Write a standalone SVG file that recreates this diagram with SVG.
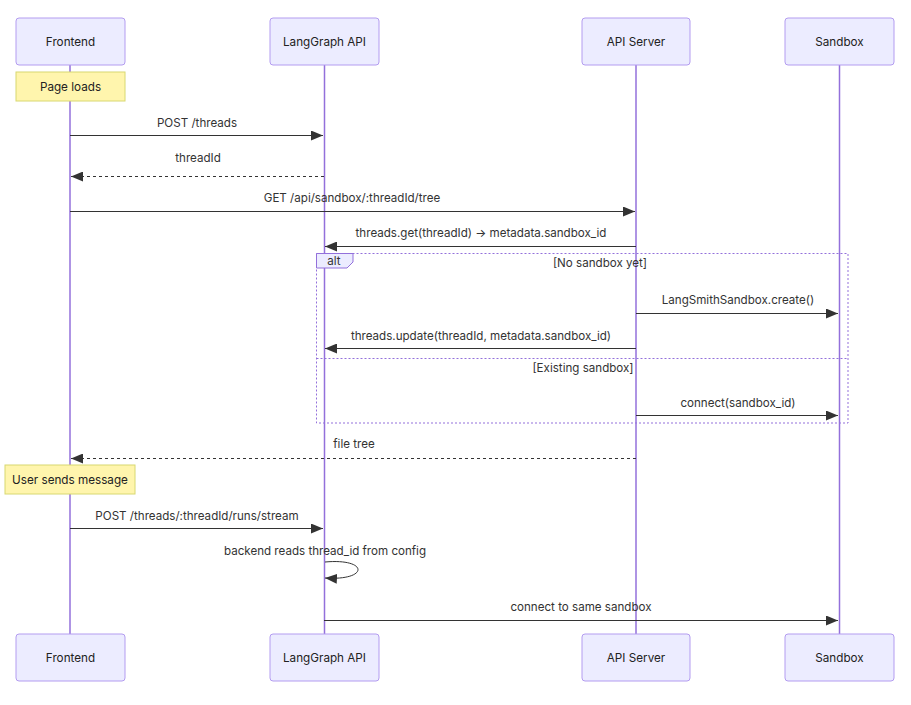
<svg xmlns="http://www.w3.org/2000/svg" width="911" height="705" viewBox="0 0 911 705">
<style>
text{font-family:Inter,"Liberation Sans",sans-serif;fill:#333;}
.actor rect{fill:#ECECFF;stroke:#B39CF0;stroke-width:1;}
.actor text{font-size:11.7px;text-anchor:middle;dominant-baseline:central;fill:#222;}
.life{stroke:#9370DB;stroke-width:1.5;}
.note rect{fill:#FFF5AD;stroke:#D8D870;stroke-width:1;}
.note text{font-size:11.7px;text-anchor:middle;dominant-baseline:central;fill:#222;}
.msg{stroke:#333;stroke-width:1;fill:none;}
.dash{stroke-dasharray:3,3;}
.lbl{font-size:11.6px;text-anchor:middle;}
.frame{fill:none;stroke:#9370DB;stroke-width:1;stroke-dasharray:2,2;}
</style>
<defs>
<marker id="ah" viewBox="0 0 12 10" refX="12" refY="5" markerWidth="12" markerHeight="10" markerUnits="userSpaceOnUse" orient="auto">
<path d="M0,0 L12,5 L0,10 z" fill="#333"/>
</marker>
</defs>
<g id="lifelines">
<line class="life" x1="70" y1="65" x2="70" y2="634"/>
<line class="life" x1="324.5" y1="65" x2="324.5" y2="634"/>
<line class="life" x1="636" y1="65" x2="636" y2="634"/>
<line class="life" x1="839.5" y1="65" x2="839.5" y2="634"/>
</g>
<g id="actor-frontend-top" class="actor"><rect x="16" y="18" width="109" height="47" rx="3"/><text x="70.5" y="41.5">Frontend</text></g>
<g id="actor-langgraph-top" class="actor"><rect x="270" y="18" width="109" height="47" rx="3"/><text x="324.5" y="41.5">LangGraph API</text></g>
<g id="actor-apiserver-top" class="actor"><rect x="582" y="18" width="108" height="47" rx="3"/><text x="636" y="41.5">API Server</text></g>
<g id="actor-sandbox-top" class="actor"><rect x="785" y="18" width="109" height="47" rx="3"/><text x="839.5" y="41.5">Sandbox</text></g>
<g id="actor-frontend-bottom" class="actor"><rect x="16" y="634" width="109" height="47" rx="3"/><text x="70.5" y="657.5">Frontend</text></g>
<g id="actor-langgraph-bottom" class="actor"><rect x="270" y="634" width="109" height="47" rx="3"/><text x="324.5" y="657.5">LangGraph API</text></g>
<g id="actor-apiserver-bottom" class="actor"><rect x="582" y="634" width="108" height="47" rx="3"/><text x="636" y="657.5">API Server</text></g>
<g id="actor-sandbox-bottom" class="actor"><rect x="785" y="634" width="109" height="47" rx="3"/><text x="839.5" y="657.5">Sandbox</text></g>
<g id="note-page-loads" class="note"><rect x="16" y="72" width="109" height="29"/><text x="70.5" y="87">Page loads</text></g>
<g id="note-user-sends" class="note"><rect x="5" y="465" width="130" height="29"/><text x="70" y="480">User sends message</text></g>
<g id="alt-frame">
<rect class="frame" x="316.5" y="253.5" width="531.5" height="169.5"/>
<line class="frame" x1="316.5" y1="358.5" x2="848" y2="358.5"/>
<path d="M316.5,253.5 H353 V262 L347,268 H316.5 Z" fill="#ECECFF" stroke="#9370DB" stroke-width="1"/>
<text x="334" y="265" style="font-size:11.6px;text-anchor:middle;">alt</text>
<text x="600" y="267" class="lbl">[No sandbox yet]</text>
<text x="583" y="372" class="lbl">[Existing sandbox]</text>
</g>
<g id="connectors">
<text class="lbl" x="197" y="127">POST /threads</text>
<line class="msg" x1="70" y1="135.5" x2="323" y2="135.5" marker-end="url(#ah)"/>
<text class="lbl" x="198" y="162">threadId</text>
<line class="msg dash" x1="324" y1="176.5" x2="71" y2="176.5" marker-end="url(#ah)"/>
<text class="lbl" x="352" y="202">GET /api/sandbox/:threadId/tree</text>
<line class="msg" x1="70" y1="211.5" x2="635" y2="211.5" marker-end="url(#ah)"/>
<text class="lbl" x="481" y="237">threads.get(threadId) → metadata.sandbox_id</text>
<line class="msg" x1="636" y1="246.5" x2="325" y2="246.5" marker-end="url(#ah)"/>
<text class="lbl" x="738" y="304">LangSmithSandbox.create()</text>
<line class="msg" x1="636" y1="313.5" x2="838" y2="313.5" marker-end="url(#ah)"/>
<text class="lbl" x="481" y="340">threads.update(threadId, metadata.sandbox_id)</text>
<line class="msg" x1="636" y1="348.5" x2="325" y2="348.5" marker-end="url(#ah)"/>
<text class="lbl" x="738" y="407">connect(sandbox_id)</text>
<line class="msg" x1="636" y1="415.5" x2="838" y2="415.5" marker-end="url(#ah)"/>
<text class="lbl" x="354" y="448">file tree</text>
<line class="msg dash" x1="636" y1="458.5" x2="71" y2="458.5" marker-end="url(#ah)"/>
<text class="lbl" x="197" y="520">POST /threads/:threadId/runs/stream</text>
<line class="msg" x1="70" y1="528.5" x2="323" y2="528.5" marker-end="url(#ah)"/>
<text class="lbl" x="325" y="555">backend reads thread_id from config</text>
<path class="msg" d="M325,562 C369,558 369,581 325,578" marker-end="url(#ah)"/>
<text class="lbl" x="581" y="611">connect to same sandbox</text>
<line class="msg" x1="324" y1="620.5" x2="838" y2="620.5" marker-end="url(#ah)"/>
</g>
</svg>
